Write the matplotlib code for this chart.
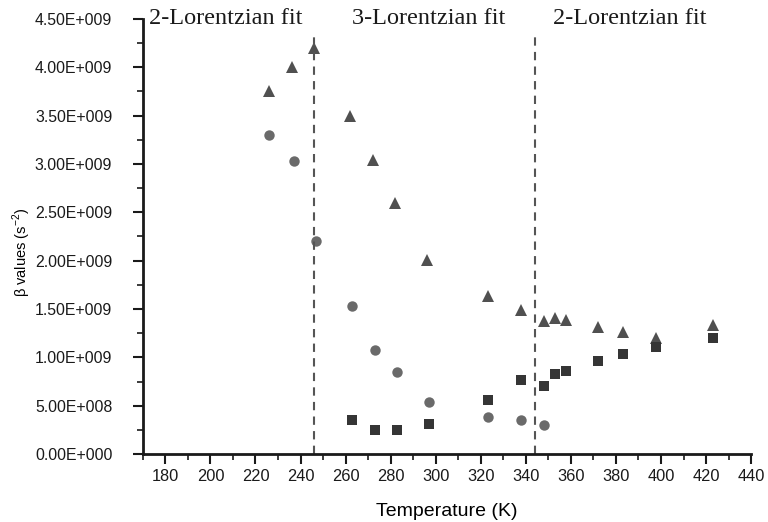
import matplotlib
matplotlib.use('Agg')
import matplotlib.pyplot as plt
from matplotlib.ticker import MultipleLocator, FuncFormatter

# temperatura (K) e valores de beta (s^-2) para cada componente
temp_tri = [226, 236, 246, 262, 272, 282, 296, 323, 338, 348, 353, 358, 372, 383, 398, 423]
beta_tri = [3.75e9, 4.00e9, 4.20e9, 3.50e9, 3.04e9, 2.60e9, 2.01e9, 1.63e9, 1.49e9,
            1.38e9, 1.41e9, 1.39e9, 1.31e9, 1.26e9, 1.20e9, 1.34e9]

temp_circ = [226, 237, 247, 263, 273, 283, 297, 323, 338, 348]
beta_circ = [3.30e9, 3.03e9, 2.20e9, 1.53e9, 1.08e9, 0.845e9, 0.54e9, 0.385e9, 0.35e9, 0.30e9]

temp_quad = [263, 273, 283, 297, 323, 338, 348, 353, 358, 372, 383, 398, 423]
beta_quad = [0.355e9, 0.245e9, 0.245e9, 0.315e9, 0.555e9, 0.77e9, 0.70e9, 0.83e9,
             0.855e9, 0.96e9, 1.03e9, 1.11e9, 1.20e9]

limites = [246, 344]
regioes = ['2-Lorentzian fit', '3-Lorentzian fit', '2-Lorentzian fit']
pos_regioes = [207, 297, 386]


def formato_e(v, pos):
    if v == 0:
        return '0.00E+000'
    mant, exp = f'{v:.2E}'.split('E')
    return f'{mant}E{int(exp):+04d}'


fig = plt.figure(figsize=(7.68, 5.22), dpi=100)
ax = fig.add_axes([0.186, 0.130, 0.792, 0.834])

ax.plot(temp_tri, beta_tri, '^', color='#505050', ms=8.5, mew=0)
ax.plot(temp_circ, beta_circ, 'o', color='#6a6a6a', ms=7.5, mew=0)
ax.plot(temp_quad, beta_quad, 's', color='#353535', ms=6.5, mew=0)

for x in limites:
    ax.vlines(x, 0, 4.36e9, colors='#555555', linestyles=(0, (4, 3)), lw=1.5)

ax.set_xlim(170, 440)
ax.set_ylim(0, 4.5e9)
ax.xaxis.set_major_locator(MultipleLocator(20))
ax.xaxis.set_minor_locator(MultipleLocator(10))
ax.yaxis.set_major_locator(MultipleLocator(0.5e9))
ax.yaxis.set_minor_locator(MultipleLocator(0.25e9))
ax.yaxis.set_major_formatter(FuncFormatter(formato_e))
ax.set_xticks(range(180, 441, 20))

for lado in ['top', 'right']:
    ax.spines[lado].set_visible(False)
for lado in ['left', 'bottom']:
    ax.spines[lado].set_linewidth(2)
    ax.spines[lado].set_color('#1a1a1a')

ax.tick_params(which='major', direction='out', length=7, width=1.5, labelsize=11.8,
               colors='#1a1a1a')
ax.tick_params(axis='y', which='major', labelsize=11.4, pad=15)
ax.tick_params(which='minor', direction='out', length=4, width=1.2, colors='#1a1a1a')
for lab in ax.get_xticklabels() + ax.get_yticklabels():
    lab.set_family('Liberation Sans')

ax.set_xlabel('Temperature (K)', fontsize=14, family='Liberation Sans', labelpad=14)
ax.set_ylabel(r'$\mathregular{\beta}$ values (s$^{\mathregular{-2}}$)', fontsize=10.5,
              family='Liberation Sans')
ax.yaxis.set_label_coords(-0.181, 0.464)

for txt, x in zip(regioes, pos_regioes):
    ax.text(x, 4.5e9, txt, fontsize=17.5, family='Liberation Serif', ha='center',
            va='center', color='#1a1a1a')

plt.savefig('out.png', dpi=100)
